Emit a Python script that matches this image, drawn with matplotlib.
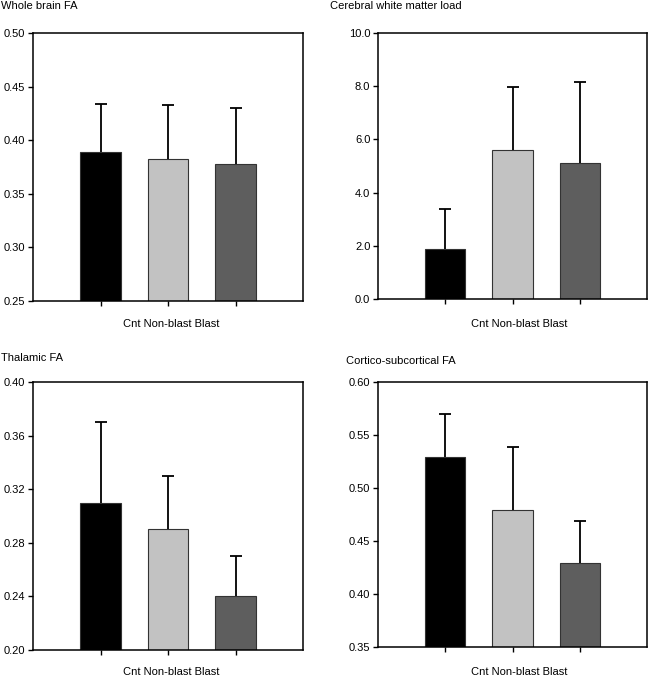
import numpy as np
import matplotlib
matplotlib.use('Agg')
from matplotlib import pyplot as plt

plt.rcParams['font.family'] = ['Liberation Sans', 'DejaVu Sans']

groups = ['Cnt', 'Non-blast', 'Blast']
colors = ['#000000', '#c2c2c2', '#5e5e5e']

titles = ['Whole brain FA', 'Cerebral white matter load',
          'Thalamic FA', 'Cortico-subcortical FA']

whole_mean = [0.389, 0.382, 0.378]
whole_err = [0.045, 0.051, 0.052]

load_mean = [1.87, 5.62, 5.12]
load_err = [1.50, 2.35, 3.05]

thal_mean = [0.310, 0.290, 0.240]
thal_err = [0.060, 0.040, 0.030]

cortico_mean = [0.529, 0.479, 0.429]
cortico_err = [0.041, 0.060, 0.040]

means = [whole_mean, load_mean, thal_mean, cortico_mean]
errs = [whole_err, load_err, thal_err, cortico_err]
ylims = [(0.25, 0.50), (0.0, 10.0), (0.20, 0.40), (0.35, 0.60)]
yticks = [np.arange(0.25, 0.501, 0.05), np.arange(0, 10.01, 2.0),
          np.arange(0.20, 0.401, 0.04), np.arange(0.35, 0.601, 0.05)]
yfmt = ['%.2f', '%.1f', '%.2f', '%.2f']

# axes rectangles in pixels: left, top, right, bottom
W, H = 648, 677
boxes = [(33, 33, 303, 301), (378, 33, 647, 299),
         (33, 382, 303, 650), (378, 382, 647, 647)]
title_pos = [(1, 6), (330, 6), (1, 358), (346, 361)]
xlab_y = [324, 324, 672, 672]
xlab_x = [171, 519, 171, 519]

fig = plt.figure(figsize=(W / 100, H / 100), dpi=100)

for i in range(4):
    l, t, r, b = boxes[i]
    ax = fig.add_axes([l / W, 1 - b / H, (r - l) / W, (b - t) / H])
    x = np.arange(len(groups))
    ax.bar(x, means[i], width=0.6, color=colors, edgecolor='#333333',
           linewidth=0.8, bottom=0, zorder=2)
    eb = ax.errorbar(x, means[i], yerr=[np.zeros(3), errs[i]], fmt='none',
                     ecolor='black', elinewidth=1.3, capsize=4, capthick=1.3,
                     zorder=3)
    # only the upper cap is drawn
    eb[1][0].set_visible(False)
    ax.set_xlim(-1, 3)
    ax.set_ylim(*ylims[i])
    ax.set_yticks(yticks[i])
    ax.set_yticklabels([yfmt[i] % v for v in yticks[i]])
    ax.set_xticks(x)
    ax.set_xticklabels([])
    ax.tick_params(direction='out', length=3.5, width=1, labelsize=8, pad=2)
    for s in ax.spines.values():
        s.set_linewidth(1.1)
    fig.text(title_pos[i][0] / W, 1 - title_pos[i][1] / H, titles[i],
             fontsize=8, ha='left', va='center')
    fig.text(xlab_x[i] / W, 1 - xlab_y[i] / H, ' '.join(groups),
             fontsize=8, ha='center', va='center')

plt.savefig('out.png', dpi=100)
